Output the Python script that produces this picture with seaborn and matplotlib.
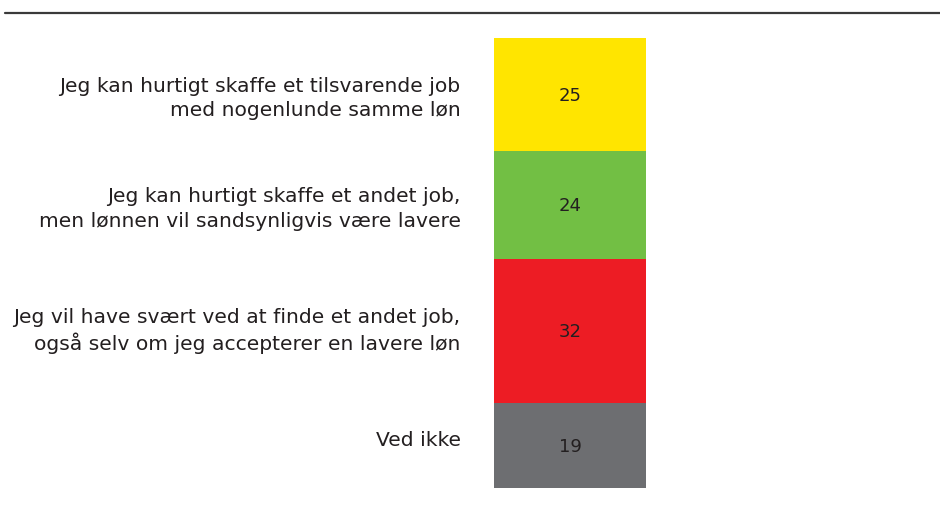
import matplotlib
matplotlib.use("Agg")
import matplotlib.pyplot as plt
import seaborn as sns
import pandas as pd
import numpy as np
from matplotlib.lines import Line2D

categories = [
    "Jeg kan hurtigt skaffe et tilsvarende job\nmed nogenlunde samme løn",
    "Jeg kan hurtigt skaffe et andet job,\nmen lønnen vil sandsynligvis være lavere",
    "Jeg vil have svært ved at finde et andet job,\nogså selv om jeg accepterer en lavere løn",
    "Ved ikke",
]
values = [25, 24, 32, 19]
colors = ["#FFE500", "#72BF44", "#ED1C24", "#6D6E71"]
text_color = "#231F20"

sns.set_theme(style="white")
plt.rcParams["font.family"] = ["DejaVu Sans"]

fig = plt.figure(figsize=(9.4, 5.07), dpi=100)
W, H = 940, 507
ax = fig.add_axes([494 / W, 1 - 488 / H, (646 - 494) / W, (488 - 38) / H])

cum = np.cumsum(values)
bottoms = cum - np.array(values)
# draw layered cumulative bars, largest first
for i in range(len(values) - 1, -1, -1):
    df = pd.DataFrame({"g": ["all"], "v": [cum[i]]})
    sns.barplot(data=df, x="g", y="v", color=colors[i], width=1.0,
                saturation=1, ax=ax, edgecolor="none", linewidth=0)

ax.set_xlim(-0.5, 0.5)
ax.set_ylim(100, 0)
centers = bottoms + np.array(values) / 2
for c, v in zip(centers, values):
    ax.text(0, c + 0.4, str(v), ha="center", va="center", fontsize=13, color=text_color)

label_shift = np.array([0, 0, -1.0, -1.5])
ax.set_yticks(centers + label_shift)
ax.set_yticklabels(categories, fontsize=14.6, color=text_color, linespacing=1.35)
ax.tick_params(axis="y", length=0, pad=24)
ax.set_xticks([])
ax.set_xlabel("")
ax.set_ylabel("")
for s in ax.spines.values():
    s.set_visible(False)

fig.add_artist(Line2D([5 / W, 1.0], [1 - 13 / H, 1 - 13 / H], color="#3a3a3a",
                      linewidth=1.6, transform=fig.transFigure))

fig.savefig("out.png", dpi=100, facecolor="white")
